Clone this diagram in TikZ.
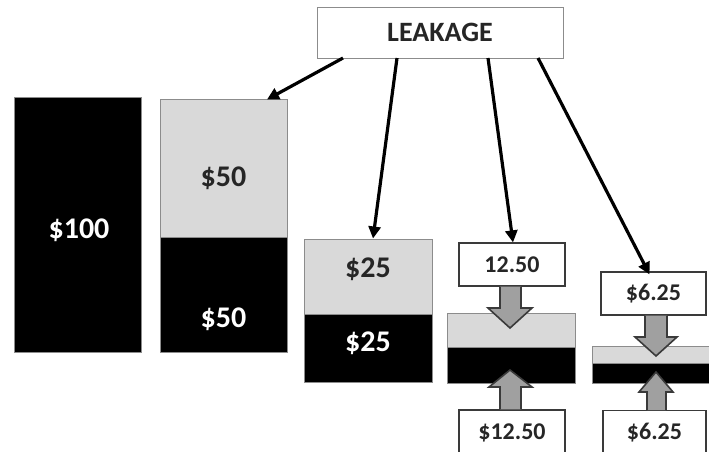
\documentclass[tikz,border=0pt]{standalone}
\usepackage{fontspec}
\setmainfont{Carlito}
\usetikzlibrary{arrows.meta}
\definecolor{lgray}{HTML}{D9D9D9}
\definecolor{agray}{HTML}{A0A0A0}
\definecolor{bord}{HTML}{8C8C8C}
\definecolor{dbord}{HTML}{3A3A3A}
\tikzset{
  seg/.style={draw=bord, line width=1pt, inner sep=0pt, minimum width=127pt},
  lseg/.style={seg, fill=lgray},
  dseg/.style={seg, fill=black},
  lbox/.style={draw=dbord, line width=1.2pt, fill=white, inner sep=0pt, font=\bfseries\fontsize{24}{26}\selectfont, text=black!85},
  dtxt/.style={font=\bfseries\fontsize{30}{32}\selectfont, text=black!85, inner sep=0pt},
  wtxt/.style={font=\bfseries\fontsize{30}{32}\selectfont, text=white, inner sep=0pt},
  conn/.style={line width=3.2pt, -{Triangle[length=12pt,width=12pt]}},
  barrow/.style={draw=dbord, line width=1.6pt, fill=agray, line join=miter}
}
\begin{document}
\begin{tikzpicture}[x=1pt,y=-1pt]
\useasboundingbox (0,0) rectangle (709,451);
% bars
\node[dseg, minimum height=255pt] (b1) at (77.5,224.5) {};
\node[lseg, minimum height=138pt] (b2g) at (223.5,168) {};
\node[dseg, minimum height=115pt] (b2k) at (223.5,294.5) {};
\node[lseg, minimum width=128pt, minimum height=75pt] (b3g) at (368,276.5) {};
\node[dseg, minimum width=128pt, minimum height=68pt] (b3k) at (368,348) {};
\node[lseg, minimum width=128pt, minimum height=34pt] (b4g) at (511,330) {};
\node[dseg, minimum width=128pt, minimum height=36pt] (b4k) at (511,365) {};
\node[lseg, minimum width=128pt, minimum height=17pt] (b5g) at (656,354.5) {};
\node[dseg, minimum width=128pt, minimum height=20pt] (b5k) at (656,373) {};
% bar texts
\node[wtxt] (t100) at (79,230) {\$100};
\node[dtxt] (t50a) at (223.5,178) {\$50};
\node[wtxt] (t50b) at (223.5,319) {\$50};
\node[dtxt] (t25a) at (368,269) {\$25};
\node[wtxt] (t25b) at (368,343) {\$25};
% label boxes
\node[lbox, minimum width=106pt, minimum height=43pt] (x4t) at (512,264.5) {12.50};
\node[lbox, minimum width=105pt, minimum height=43pt] (x5t) at (653.5,293.5) {\$6.25};
\node[lbox, minimum width=106pt, minimum height=45pt] (x4b) at (512,432.5) {\$12.50};
\node[lbox, minimum width=103pt, minimum height=45pt] (x5b) at (654.5,433) {\$6.25};
% block arrows
\draw[barrow] (500,286.6) -- (500,308) -- (488,308) -- (510,328) -- (532,308) -- (521,308) -- (521,286.6);
\draw[barrow] (500,409.4) -- (500,387) -- (489,387) -- (510,370) -- (532,387) -- (521,387) -- (521,409.4);
\draw[barrow] (645,315.6) -- (645,337) -- (635,337) -- (656,356) -- (677,337) -- (667,337) -- (667,315.6);
\draw[barrow] (647,410) -- (647,392) -- (639,392) -- (656,372) -- (673,392) -- (666,392) -- (666,410);
% leakage
\node[lbox, line width=1pt, draw=bord, minimum width=246pt, minimum height=51pt, font=\bfseries\fontsize{28}{30}\selectfont] (leak) at (440,32.5) {LEAKAGE};
\coordinate (s1) at (343,58);
\coordinate (s2) at (397,58);
\coordinate (s3) at (488,58);
\coordinate (s4) at (538,58);
\draw[conn] (s1) -- ([xshift=43.5pt,yshift=-1pt]b2g.north);
\draw[conn] (s2) -- ([xshift=5pt]b3g.north);
\draw[conn] (s3) -- ([xshift=1pt]x4t.north);
\draw[conn] (s4) -- ([xshift=-4pt,yshift=-3pt]x5t.north);
\end{tikzpicture}
\end{document}
